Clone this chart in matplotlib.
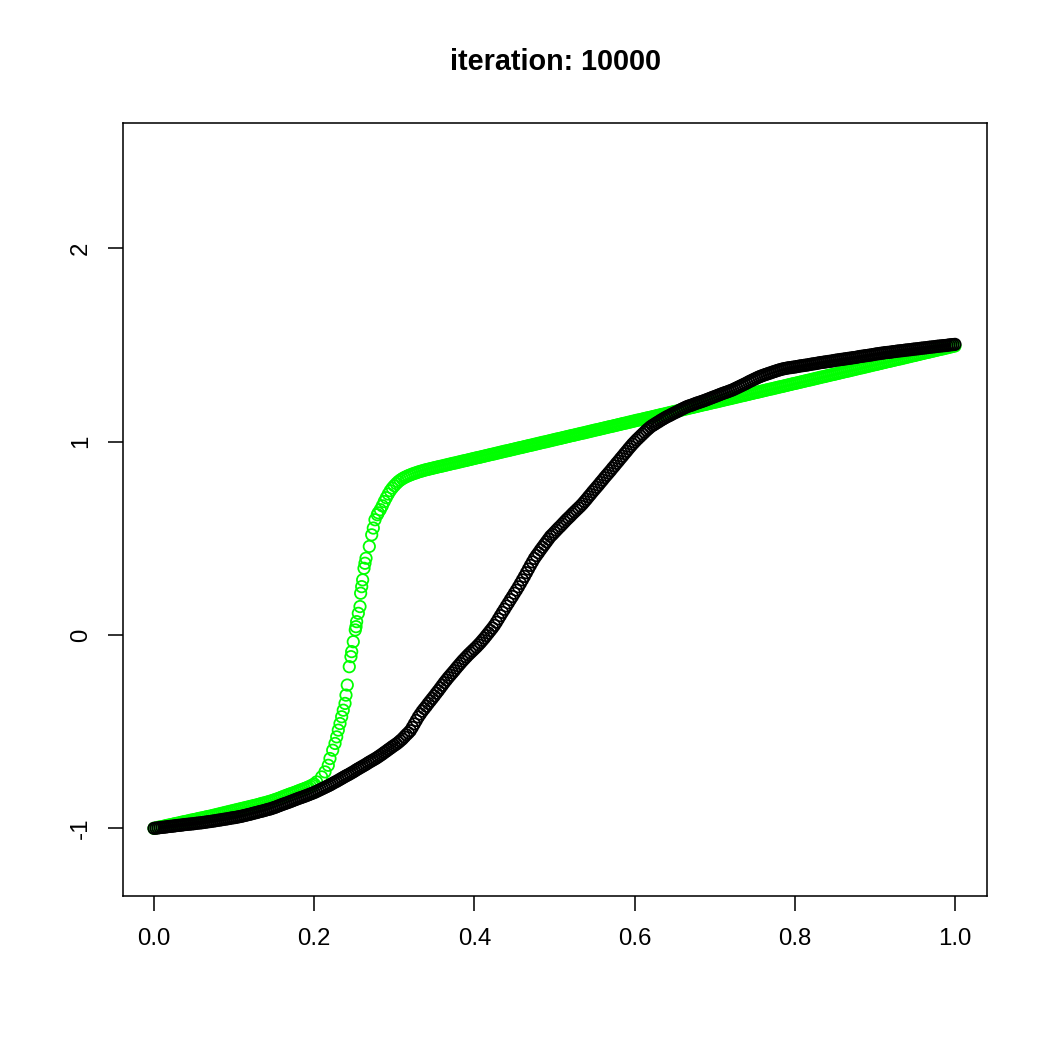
import numpy as np
import matplotlib.pyplot as plt

plt.rcParams['font.family'] = ['Liberation Sans', 'DejaVu Sans']

# title
title = 'iteration: 10000'

# green series: low part, sampled every 0.0025 on x from 0.0 to 0.2
green_lo_y = [-1.000, -0.998, -0.995, -0.993, -0.991, -0.989, -0.986, -0.984, -0.982, -0.980,
              -0.977, -0.975, -0.973, -0.971, -0.968, -0.966, -0.964, -0.962, -0.959, -0.957,
              -0.955, -0.953, -0.950, -0.948, -0.946, -0.944, -0.941, -0.939, -0.937, -0.935,
              -0.932, -0.930, -0.927, -0.925, -0.922, -0.920, -0.917, -0.915, -0.912, -0.910,
              -0.907, -0.905, -0.902, -0.900, -0.897, -0.895, -0.892, -0.890, -0.887, -0.885,
              -0.882, -0.880, -0.877, -0.874, -0.871, -0.869, -0.866, -0.863, -0.860, -0.857,
              -0.853, -0.850, -0.846, -0.842, -0.838, -0.834, -0.830, -0.826, -0.822, -0.819,
              -0.815, -0.811, -0.807, -0.803, -0.799, -0.795, -0.791, -0.787, -0.782, -0.777,
              -0.771]

# green series: the jump (read circle by circle) and the knee
green_mid_x = [0.2031, 0.2093, 0.2135, 0.2176, 0.2197, 0.2231, 0.2260, 0.2281, 0.2301, 0.2322,
               0.2343, 0.2363, 0.2385, 0.2397, 0.2413, 0.2438, 0.2459, 0.2468, 0.2488, 0.2513,
               0.2522, 0.2530, 0.2551, 0.2572, 0.2580, 0.2593, 0.2605, 0.2622, 0.2634, 0.2647,
               0.2688, 0.2718, 0.2738, 0.2759, 0.2788,
               0.2800, 0.2825, 0.2850, 0.2875, 0.2900, 0.2925, 0.2950, 0.2975, 0.3000, 0.3025,
               0.3050, 0.3075, 0.3100, 0.3125, 0.3150, 0.3175, 0.3200, 0.3225, 0.3250, 0.3275,
               0.3300, 0.3325, 0.3350, 0.3375, 0.3400]
green_mid_y = [-0.760, -0.734, -0.708, -0.674, -0.639, -0.596, -0.561, -0.527, -0.492, -0.458,
               -0.423, -0.389, -0.354, -0.311, -0.259, -0.164, -0.112, -0.086, -0.035, 0.026,
               0.043, 0.069, 0.112, 0.147, 0.216, 0.250, 0.285, 0.345, 0.371, 0.397,
               0.458, 0.518, 0.553, 0.596, 0.622,
               0.632, 0.648, 0.668, 0.690, 0.710, 0.729, 0.746, 0.760, 0.772, 0.783,
               0.793, 0.801, 0.808, 0.814, 0.819, 0.824, 0.828, 0.832, 0.836, 0.839,
               0.843, 0.846, 0.849, 0.852, 0.855]

# green series: upper straight part, every 0.0025 on x from 0.3425 to 1.0
green_hi_y = [0.857, 0.860, 0.862, 0.865, 0.867, 0.870, 0.872, 0.874, 0.877, 0.879,
              0.882, 0.884, 0.887, 0.889, 0.891, 0.894, 0.896, 0.899, 0.901, 0.903,
              0.906, 0.908, 0.911, 0.913, 0.916, 0.918, 0.920, 0.923, 0.925, 0.928,
              0.930, 0.933, 0.935, 0.937, 0.940, 0.942, 0.945, 0.947, 0.950, 0.952,
              0.954, 0.957, 0.959, 0.962, 0.964, 0.967, 0.969, 0.971, 0.974, 0.976,
              0.979, 0.981, 0.983, 0.986, 0.988, 0.991, 0.993, 0.996, 0.998, 1.000,
              1.003, 1.005, 1.008, 1.010, 1.013, 1.015, 1.017, 1.020, 1.022, 1.025,
              1.027, 1.030, 1.032, 1.034, 1.037, 1.039, 1.042, 1.044, 1.046, 1.049,
              1.051, 1.054, 1.056, 1.059, 1.061, 1.063, 1.066, 1.068, 1.071, 1.073,
              1.076, 1.078, 1.080, 1.083, 1.085, 1.088, 1.090, 1.093, 1.095, 1.097,
              1.100, 1.102, 1.105, 1.107, 1.110, 1.112, 1.114, 1.117, 1.119, 1.122,
              1.124, 1.126, 1.129, 1.131, 1.134, 1.136, 1.139, 1.141, 1.143, 1.146,
              1.148, 1.151, 1.153, 1.156, 1.158, 1.160, 1.163, 1.165, 1.168, 1.170,
              1.173, 1.175, 1.177, 1.180, 1.182, 1.185, 1.187, 1.190, 1.192, 1.194,
              1.197, 1.199, 1.202, 1.204, 1.206, 1.209, 1.211, 1.214, 1.216, 1.219,
              1.221, 1.223, 1.226, 1.228, 1.231, 1.233, 1.236, 1.238, 1.240, 1.243,
              1.245, 1.248, 1.250, 1.253, 1.255, 1.257, 1.260, 1.262, 1.265, 1.267,
              1.270, 1.272, 1.274, 1.277, 1.279, 1.282, 1.284, 1.286, 1.289, 1.291,
              1.294, 1.296, 1.299, 1.301, 1.303, 1.306, 1.308, 1.311, 1.313, 1.316,
              1.318, 1.320, 1.323, 1.325, 1.328, 1.330, 1.333, 1.335, 1.337, 1.340,
              1.342, 1.345, 1.347, 1.349, 1.352, 1.354, 1.357, 1.359, 1.362, 1.364,
              1.366, 1.369, 1.371, 1.374, 1.376, 1.379, 1.381, 1.383, 1.386, 1.388,
              1.391, 1.393, 1.396, 1.398, 1.400, 1.403, 1.405, 1.408, 1.410, 1.413,
              1.415, 1.417, 1.420, 1.422, 1.425, 1.427, 1.429, 1.432, 1.434, 1.437,
              1.439, 1.442, 1.444, 1.446, 1.449, 1.451, 1.454, 1.456, 1.459, 1.461,
              1.463, 1.466, 1.468, 1.471, 1.473, 1.476, 1.478, 1.480, 1.483, 1.485,
              1.488, 1.490, 1.493, 1.495]

# black series, every 0.0025 on x from 0.0 to 1.0
black_y = [-1.000, -0.999, -0.998, -0.996, -0.995, -0.994, -0.993, -0.991, -0.990, -0.989,
           -0.988, -0.986, -0.985, -0.984, -0.983, -0.981, -0.980, -0.979, -0.978, -0.977,
           -0.976, -0.974, -0.973, -0.972, -0.971, -0.969, -0.968, -0.966, -0.965, -0.963,
           -0.962, -0.960, -0.958, -0.957, -0.955, -0.953, -0.952, -0.950, -0.948, -0.946,
           -0.945, -0.943, -0.941, -0.939, -0.937, -0.934, -0.932, -0.929, -0.927, -0.924,
           -0.921, -0.919, -0.916, -0.913, -0.911, -0.908, -0.905, -0.902, -0.900, -0.896,
           -0.893, -0.889, -0.885, -0.881, -0.877, -0.873, -0.870, -0.866, -0.862, -0.858,
           -0.854, -0.850, -0.846, -0.842, -0.839, -0.835, -0.831, -0.827, -0.823, -0.819,
           -0.815, -0.810, -0.805, -0.800, -0.795, -0.790, -0.785, -0.780, -0.775, -0.769,
           -0.763, -0.758, -0.752, -0.746, -0.740, -0.734, -0.728, -0.723, -0.717, -0.711,
           -0.705, -0.698, -0.692, -0.686, -0.680, -0.674, -0.668, -0.661, -0.655, -0.649,
           -0.643, -0.637, -0.630, -0.623, -0.616, -0.608, -0.601, -0.593, -0.586, -0.578,
           -0.571, -0.564, -0.556, -0.547, -0.538, -0.527, -0.516, -0.506, -0.495, -0.478,
           -0.460, -0.442, -0.424, -0.409, -0.394, -0.381, -0.368, -0.354, -0.341, -0.328,
           -0.315, -0.301, -0.288, -0.274, -0.260, -0.246, -0.233, -0.220, -0.208, -0.196,
           -0.184, -0.171, -0.159, -0.147, -0.135, -0.124, -0.113, -0.102, -0.092, -0.082,
           -0.072, -0.062, -0.051, -0.040, -0.028, -0.016, -0.003, 0.010, 0.023, 0.036,
           0.050, 0.066, 0.083, 0.100, 0.117, 0.133, 0.150, 0.166, 0.183, 0.199,
           0.216, 0.232, 0.249, 0.267, 0.285, 0.303, 0.322, 0.341, 0.360, 0.378,
           0.396, 0.411, 0.425, 0.440, 0.454, 0.468, 0.482, 0.496, 0.510, 0.520,
           0.531, 0.542, 0.553, 0.563, 0.574, 0.585, 0.596, 0.606, 0.616, 0.627,
           0.637, 0.647, 0.657, 0.667, 0.678, 0.690, 0.702, 0.715, 0.727, 0.740,
           0.752, 0.764, 0.776, 0.789, 0.801, 0.814, 0.826, 0.838, 0.850, 0.863,
           0.875, 0.888, 0.900, 0.913, 0.925, 0.938, 0.950, 0.963, 0.975, 0.987,
           0.998, 1.009, 1.019, 1.029, 1.039, 1.049, 1.059, 1.068, 1.077, 1.084,
           1.090, 1.097, 1.103, 1.110, 1.116, 1.122, 1.128, 1.133, 1.138, 1.144,
           1.149, 1.154, 1.159, 1.165, 1.170, 1.175, 1.180, 1.184, 1.187, 1.191,
           1.195, 1.199, 1.202, 1.206, 1.209, 1.213, 1.217, 1.221, 1.225, 1.229,
           1.233, 1.237, 1.241, 1.245, 1.249, 1.253, 1.256, 1.260, 1.264, 1.268,
           1.273, 1.278, 1.283, 1.288, 1.293, 1.298, 1.303, 1.309, 1.314, 1.319,
           1.324, 1.329, 1.334, 1.338, 1.342, 1.346, 1.349, 1.353, 1.356, 1.360,
           1.363, 1.367, 1.370, 1.373, 1.376, 1.378, 1.380, 1.382, 1.383, 1.385,
           1.386, 1.388, 1.390, 1.392, 1.393, 1.395, 1.396, 1.398, 1.400, 1.402,
           1.403, 1.405, 1.407, 1.409, 1.410, 1.412, 1.413, 1.415, 1.416, 1.418,
           1.420, 1.422, 1.423, 1.425, 1.426, 1.428, 1.429, 1.431, 1.432, 1.434,
           1.435, 1.437, 1.439, 1.441, 1.442, 1.444, 1.445, 1.447, 1.448, 1.450,
           1.452, 1.454, 1.455, 1.457, 1.458, 1.460, 1.461, 1.462, 1.463, 1.465,
           1.466, 1.468, 1.469, 1.470, 1.471, 1.473, 1.474, 1.475, 1.476, 1.478,
           1.479, 1.480, 1.481, 1.483, 1.484, 1.485, 1.486, 1.488, 1.489, 1.490,
           1.491, 1.493, 1.494, 1.495, 1.496, 1.497, 1.498, 1.500, 1.501, 1.502,
           1.503]

x_ticks = [0.0, 0.2, 0.4, 0.6, 0.8, 1.0]
x_labels = ['0.0', '0.2', '0.4', '0.6', '0.8', '1.0']
y_ticks = [-1, 0, 1, 2]
y_labels = ['-1', '0', '1', '2']

green_x = np.concatenate([np.linspace(0, 0.2, len(green_lo_y)),
                          green_mid_x,
                          np.linspace(0.3425, 1.0, len(green_hi_y))])
green_y = np.concatenate([green_lo_y, green_mid_y, green_hi_y])
black_x = np.linspace(0, 1, len(black_y))

fig = plt.figure(figsize=(7, 7), dpi=150)
ax = fig.add_axes([123 / 1050, 1 - 896 / 1050, 864 / 1050, 773 / 1050])

# open circles like R's pch=1
ax.scatter(green_x, green_y, s=30, facecolors='none', edgecolors='#00ff00', linewidths=0.85)
ax.scatter(black_x, black_y, s=30, facecolors='none', edgecolors='black', linewidths=0.85)

ax.set_xlim(-0.0387, 1.04)
ax.set_ylim(-1.35, 2.648)
ax.set_xticks(x_ticks)
ax.set_xticklabels(x_labels)
ax.set_yticks(y_ticks)
ax.set_yticklabels(y_labels, rotation=90, va='center')
ax.tick_params(axis='both', length=7, width=0.75, labelsize=11.5, color='black')
ax.tick_params(axis='x', pad=8.5)
ax.tick_params(axis='y', pad=8)
for sp in ax.spines.values():
    sp.set_linewidth(0.75)

fig.text(555 / 1050, 1 - 62 / 1050, title, ha='center', va='center',
         fontsize=13.8, fontweight='bold')

fig.savefig('out.png', dpi=150)
